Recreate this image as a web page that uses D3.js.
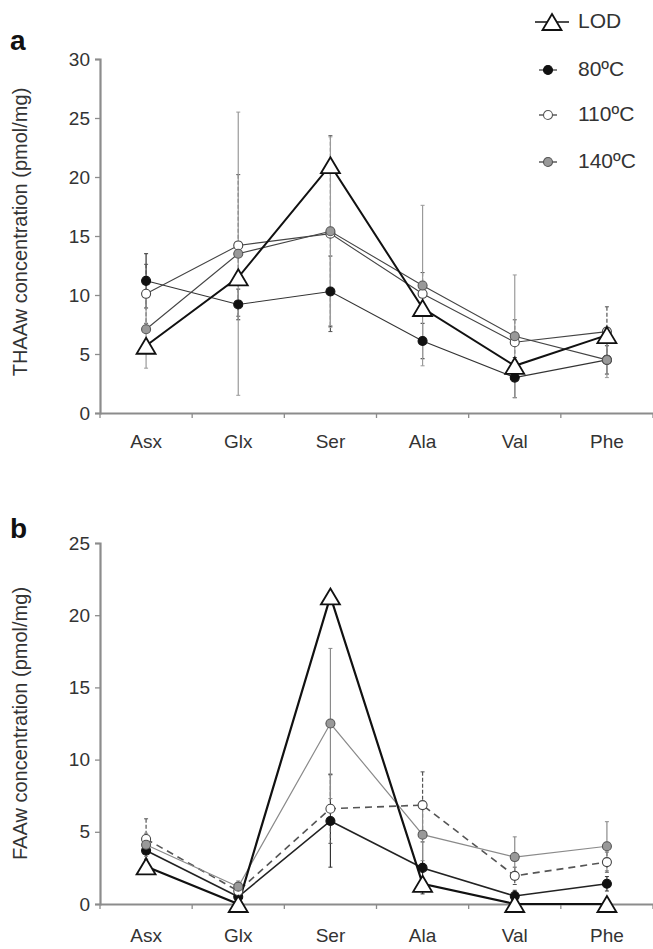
<!DOCTYPE html>
<html>
<head>
<meta charset="utf-8">
<script src="https://cdn.jsdelivr.net/npm/d3@7"></script>
<style>
  body { margin: 0; background: #fff; }
  svg { display: block; font-family: "Liberation Sans", Arial, sans-serif; }
</style>
</head>
<body>
<svg id="chart" width="653" height="949"></svg>
<script>
const categories = ["Asx", "Glx", "Ser", "Ala", "Val", "Phe"];

// panel a - THAAw
const thaaTicks = [0, 5, 10, 15, 20, 25, 30];
const thaaLOD = [5.7, 11.5, 21.0, 8.9, 4.0, 6.6];
const thaa80 = [11.2, 9.2, 10.3, 6.1, 3.0, 4.5];
const thaa80Err = [2.3, 1.3, 3.0, 1.5, 1.7, 1.2];
const thaa110 = [10.1, 14.2, 15.2, 10.1, 6.0, 6.9];
const thaa110Err = [2.5, 6.0, 8.3, 1.8, 1.9, 2.1];
const thaa140 = [7.1, 13.5, 15.4, 10.8, 6.5, 4.5];
const thaa140Err = [3.3, 12.0, 8.0, 6.8, 5.2, 1.5];

// panel b - FAAw
const faaTicks = [0, 5, 10, 15, 20, 25];
const faaLOD = [2.6, 0, 21.3, 1.4, 0, 0];
const faa80 = [3.7, 0.5, 5.75, 2.5, 0.55, 1.4];
const faa80Err = [0.6, 0.3, 3.2, 1.8, 0.4, 0.5];
const faa110 = [4.5, 0.9, 6.6, 6.85, 1.95, 2.9];
const faa110Err = [1.4, 0.4, 2.4, 2.3, 0.6, 0.7];
const faa140 = [4.1, 1.2, 12.5, 4.8, 3.25, 4.0];
const faa140Err = [0.8, 0.4, 5.2, 1.8, 1.4, 1.7];

const legendLabels = ["LOD", "80ºC", "110ºC", "140ºC"];

const svg = d3.select("#chart");
const axisColor = "#8c8c8c";
const textColor = "#333";

function triPath(x, y) {
  return `M${x},${y - 8}L${x + 9.5},${y + 8}L${x - 9.5},${y + 8}Z`;
}

function drawPanel(cfg) {
  const g = svg.append("g");
  const x = d3.scaleBand().domain(categories).range([100, 653]);
  const y = d3.scaleLinear().domain([0, cfg.max]).range([cfg.y0, cfg.y1]);
  const cx = d => x(d) + x.bandwidth() / 2;

  // axes
  const yAxis = g.append("g")
    .attr("transform", "translate(100,0)")
    .call(d3.axisLeft(y).tickValues(cfg.ticks).tickSize(5).tickPadding(5));
  const xAxis = g.append("g")
    .attr("transform", `translate(0,${cfg.y0})`)
    .call(d3.axisBottom(x).tickSize(0).tickPadding(cfg.labelPad));
  // ticks between categories
  g.selectAll(".sep")
    .data(d3.range(categories.length + 1))
    .enter()
    .append("line")
      .attr("x1", i => 100 + i * x.step())
      .attr("x2", i => 100 + i * x.step())
      .attr("y1", cfg.y0)
      .attr("y2", cfg.y0 + 5)
      .attr("stroke", axisColor)
      .attr("stroke-width", 1.3);
  [yAxis, xAxis].forEach(a => {
    a.select(".domain").attr("stroke", axisColor).attr("stroke-width", 2.2);
    a.selectAll(".tick line").attr("stroke", axisColor).attr("stroke-width", 1.3);
    a.selectAll("text").attr("fill", textColor).style("font-size", "19px");
  });

  g.append("text")
    .attr("transform", `translate(22,${(cfg.y0 + cfg.y1) / 2 + cfg.titleShift}) rotate(-90)`)
    .attr("text-anchor", "middle")
    .attr("dominant-baseline", "middle")
    .style("font-size", "20px")
    .attr("fill", textColor)
    .text(cfg.title);

  g.append("text")
    .attr("x", 10)
    .attr("y", cfg.letterY)
    .style("font-size", "28px")
    .style("font-weight", "bold")
    .attr("fill", "#111")
    .text(cfg.letter);

  // error bars
  cfg.series.forEach(s => {
    if (!s.err) return;
    const eb = g.append("g");
    categories.forEach((c, i) => {
      const top = y(s.values[i] + s.err[i]);
      const bot = y(Math.max(0, s.values[i] - s.err[i]));
      eb.append("line")
        .attr("x1", cx(c)).attr("x2", cx(c))
        .attr("y1", top).attr("y2", bot)
        .attr("stroke", s.errColor)
        .attr("stroke-width", 1.2)
        .attr("stroke-dasharray", s.errDash || null);
      [top, bot].forEach(v => {
        eb.append("line")
          .attr("x1", cx(c) - 2).attr("x2", cx(c) + 2)
          .attr("y1", v).attr("y2", v)
          .attr("stroke", s.errColor)
          .attr("stroke-width", 1);
      });
    });
  });

  // lines
  const line = d3.line().x((d, i) => cx(categories[i])).y(d => y(d));
  cfg.series.forEach(s => {
    g.append("path")
      .datum(s.values)
      .attr("d", line)
      .attr("fill", "none")
      .attr("stroke", s.lineColor)
      .attr("stroke-width", s.lineWidth)
      .attr("stroke-dasharray", s.dash || null);
  });

  // markers
  cfg.series.forEach(s => {
    if (s.tri) {
      g.selectAll(null)
        .data(s.values)
        .enter()
        .append("path")
          .attr("d", (d, i) => triPath(cx(categories[i]), y(d)))
          .attr("fill", "#fff")
          .attr("stroke", "#111")
          .attr("stroke-width", 1.8);
    } else {
      g.selectAll(null)
        .data(s.values)
        .enter()
        .append("circle")
          .attr("cx", (d, i) => cx(categories[i]))
          .attr("cy", d => y(d))
          .attr("r", 4.5)
          .attr("fill", s.fill)
          .attr("stroke", s.stroke)
          .attr("stroke-width", 1.1);
    }
  });
}

drawPanel({
  max: 30, y0: 413, y1: 59, ticks: thaaTicks, letter: "a", letterY: 50,
  labelPad: 22, titleShift: -4,
  title: "THAAw concentration (pmol/mg)",
  series: [
    { values: thaa80, err: thaa80Err, errColor: "#333", lineColor: "#333", lineWidth: 1.1, fill: "#111", stroke: "#111" },
    { values: thaa110, err: thaa110Err, errColor: "#555", errDash: "4,2", lineColor: "#444", lineWidth: 1.1, fill: "#fff", stroke: "#444" },
    { values: thaa140, err: thaa140Err, errColor: "#9a9a9a", lineColor: "#444", lineWidth: 1.1, fill: "#999", stroke: "#555" },
    { values: thaaLOD, lineColor: "#111", lineWidth: 2, tri: true }
  ]
});

drawPanel({
  max: 25, y0: 904, y1: 543, ticks: faaTicks, letter: "b", letterY: 538,
  labelPad: 25, titleShift: 0,
  title: "FAAw concentration (pmol/mg)",
  series: [
    { values: faa80, err: faa80Err, errColor: "#333", lineColor: "#222", lineWidth: 1.6, fill: "#111", stroke: "#111" },
    { values: faa110, err: faa110Err, errColor: "#555", errDash: "4,2", lineColor: "#555", lineWidth: 1.6, dash: "7,5", fill: "#fff", stroke: "#444" },
    { values: faa140, err: faa140Err, errColor: "#8a8a8a", lineColor: "#8a8a8a", lineWidth: 1.2, fill: "#999", stroke: "#555" },
    { values: faaLOD, lineColor: "#111", lineWidth: 2.2, tri: true }
  ]
});

// legend
const legendY = [22, 70, 115, 162];
const legend = svg.append("g");
legendLabels.forEach((lab, i) => {
  const row = legend.append("g").attr("transform", `translate(0,${legendY[i]})`);
  if (i === 0) {
    row.append("line").attr("x1", 535).attr("x2", 569).attr("y1", 0).attr("y2", 0)
      .attr("stroke", "#111").attr("stroke-width", 1.6);
    row.append("path").attr("d", triPath(552, 0)).attr("fill", "#fff")
      .attr("stroke", "#111").attr("stroke-width", 1.8);
  } else {
    row.append("line").attr("x1", 539).attr("x2", 557).attr("y1", 0).attr("y2", 0)
      .attr("stroke", "#333").attr("stroke-width", 1.2);
    row.append("circle").attr("cx", 548).attr("cy", 0).attr("r", 4.5)
      .attr("fill", ["", "#111", "#fff", "#999"][i])
      .attr("stroke", i === 1 ? "#111" : "#555").attr("stroke-width", 1.1);
  }
  row.append("text")
    .attr("x", 578)
    .attr("y", 0)
    .attr("dominant-baseline", "middle")
    .style("font-size", "21px")
    .attr("fill", textColor)
    .text(lab);
});
</script>
</body>
</html>
